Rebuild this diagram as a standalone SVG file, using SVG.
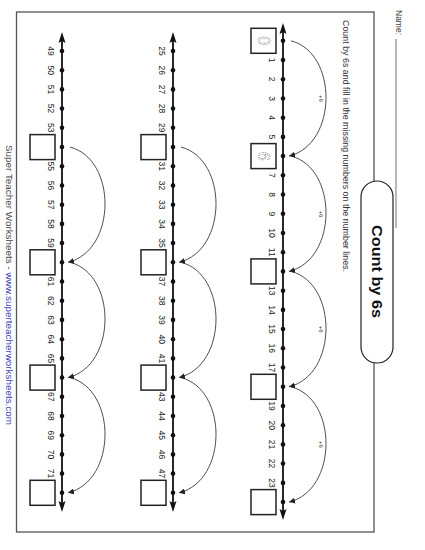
<svg xmlns="http://www.w3.org/2000/svg" width="425" height="550" viewBox="0 0 425 550">
<style>
.axis{stroke:#111;stroke-width:1.8;fill:none}
.dot{fill:#111}
.head{fill:#111}
.num{font-family:"Liberation Sans",Arial,sans-serif;font-size:8.5px;fill:#222;text-anchor:middle}
.box{fill:#fff;stroke:#222;stroke-width:1.5}
.hint{font-family:"Liberation Sans",Arial,sans-serif;font-size:16px;fill:none;stroke:#777;stroke-width:0.7;stroke-dasharray:1 1.1;text-anchor:middle}
.arc{fill:none;stroke:#222;stroke-width:0.8;marker-end:url(#ah)}
.plus{font-family:"Liberation Sans",Arial,sans-serif;font-size:6px;fill:#333;text-anchor:middle}
</style>
<defs>
<marker id="ah" markerUnits="userSpaceOnUse" markerWidth="7" markerHeight="6" refX="6" refY="3" orient="auto">
<path d="M0,0 L6,3 L0,6 Z" fill="#222"/>
</marker>
</defs>
<rect width="425" height="550" fill="#fff"/>

<g id="frame">
<rect x="16.5" y="12" width="357.5" height="520" fill="none" stroke="#555" stroke-width="1.3"/>
</g>

<g id="name">
<text transform="translate(396,10) rotate(90)" font-family="Liberation Sans,Arial,sans-serif" font-size="8.5" fill="#444">Name:</text>
<line x1="396" y1="39" x2="396" y2="228" stroke="#888" stroke-width="1.2"/>
</g>

<g id="title">
<rect x="361" y="181" width="32" height="182" rx="16" fill="#fff" stroke="#222" stroke-width="1.2"/>
<text transform="translate(372,271.5) rotate(90)" font-family="Liberation Sans,Arial,sans-serif" font-size="15" font-weight="bold" fill="#111" text-anchor="middle" textLength="93" lengthAdjust="spacingAndGlyphs">Count by 6s</text>
</g>

<g id="instructions">
<text transform="translate(343,20) rotate(90)" font-family="Liberation Sans,Arial,sans-serif" font-size="9" fill="#333" textLength="252" lengthAdjust="spacingAndGlyphs">Count by 6s and fill in the missing numbers on the number lines.</text>
</g>

<g id="footer">
<text transform="translate(5.5,145) rotate(90)" font-family="Liberation Sans,Arial,sans-serif" font-size="9" fill="#444" textLength="280" lengthAdjust="spacingAndGlyphs">Super Teacher Worksheets - <tspan fill="#4040c0">www.superteacherworksheets.com</tspan></text>
</g>

<g id="numberline-1">
<line class="axis" x1="283" y1="30" x2="283" y2="513"/>
<polygon class="head" points="283,23 279.5,34 283,32 286.5,34"/>
<polygon class="head" points="283,520 279.5,509 283,511 286.5,509"/>
<circle class="dot" cx="283" cy="40.8" r="2.3"/><circle class="dot" cx="283" cy="60.0" r="2.3"/><circle class="dot" cx="283" cy="79.2" r="2.3"/><circle class="dot" cx="283" cy="98.5" r="2.3"/><circle class="dot" cx="283" cy="117.7" r="2.3"/><circle class="dot" cx="283" cy="136.9" r="2.3"/><circle class="dot" cx="283" cy="156.1" r="2.3"/><circle class="dot" cx="283" cy="175.3" r="2.3"/><circle class="dot" cx="283" cy="194.6" r="2.3"/><circle class="dot" cx="283" cy="213.8" r="2.3"/><circle class="dot" cx="283" cy="233.0" r="2.3"/><circle class="dot" cx="283" cy="252.2" r="2.3"/><circle class="dot" cx="283" cy="271.4" r="2.3"/><circle class="dot" cx="283" cy="290.7" r="2.3"/><circle class="dot" cx="283" cy="309.9" r="2.3"/><circle class="dot" cx="283" cy="329.1" r="2.3"/><circle class="dot" cx="283" cy="348.3" r="2.3"/><circle class="dot" cx="283" cy="367.5" r="2.3"/><circle class="dot" cx="283" cy="386.8" r="2.3"/><circle class="dot" cx="283" cy="406.0" r="2.3"/><circle class="dot" cx="283" cy="425.2" r="2.3"/><circle class="dot" cx="283" cy="444.4" r="2.3"/><circle class="dot" cx="283" cy="463.6" r="2.3"/><circle class="dot" cx="283" cy="482.9" r="2.3"/><circle class="dot" cx="283" cy="502.1" r="2.3"/>
<text class="num" transform="translate(268.5,60.0) rotate(90)">1</text>
<text class="num" transform="translate(268.5,79.2) rotate(90)">2</text>
<text class="num" transform="translate(268.5,98.5) rotate(90)">3</text>
<text class="num" transform="translate(268.5,117.7) rotate(90)">4</text>
<text class="num" transform="translate(268.5,136.9) rotate(90)">5</text>
<text class="num" transform="translate(268.5,175.3) rotate(90)">7</text>
<text class="num" transform="translate(268.5,194.6) rotate(90)">8</text>
<text class="num" transform="translate(268.5,213.8) rotate(90)">9</text>
<text class="num" transform="translate(268.5,233.0) rotate(90)">10</text>
<text class="num" transform="translate(268.5,252.2) rotate(90)">11</text>
<text class="num" transform="translate(268.5,290.7) rotate(90)">13</text>
<text class="num" transform="translate(268.5,309.9) rotate(90)">14</text>
<text class="num" transform="translate(268.5,329.1) rotate(90)">15</text>
<text class="num" transform="translate(268.5,348.3) rotate(90)">16</text>
<text class="num" transform="translate(268.5,367.5) rotate(90)">17</text>
<text class="num" transform="translate(268.5,406.0) rotate(90)">19</text>
<text class="num" transform="translate(268.5,425.2) rotate(90)">20</text>
<text class="num" transform="translate(268.5,444.4) rotate(90)">21</text>
<text class="num" transform="translate(268.5,463.6) rotate(90)">22</text>
<text class="num" transform="translate(268.5,482.9) rotate(90)">23</text>
</g>
<g id="box-0"><rect class="box" x="251" y="28.3" width="25" height="25"/><text class="hint" transform="translate(257.5,40.8) rotate(90)">0</text></g>
<g id="box-6"><rect class="box" x="251" y="143.6" width="25" height="25"/><text class="hint" transform="translate(257.5,156.1) rotate(90)">6</text></g>
<g id="box-12"><rect class="box" x="251" y="258.9" width="25" height="25"/></g>
<g id="box-18"><rect class="box" x="251" y="374.3" width="25" height="25"/></g>
<g id="box-24"><rect class="box" x="251" y="489.6" width="25" height="25"/></g>

<g id="numberline-2">
<line class="axis" x1="173" y1="39" x2="173" y2="505"/>
<polygon class="head" points="173,32 169.5,43 173,41 176.5,43"/>
<polygon class="head" points="173,512 169.5,501 173,503 176.5,501"/>
<circle class="dot" cx="173" cy="51.0" r="2.3"/><circle class="dot" cx="173" cy="70.2" r="2.3"/><circle class="dot" cx="173" cy="89.4" r="2.3"/><circle class="dot" cx="173" cy="108.6" r="2.3"/><circle class="dot" cx="173" cy="127.8" r="2.3"/><circle class="dot" cx="173" cy="147.1" r="2.3"/><circle class="dot" cx="173" cy="166.3" r="2.3"/><circle class="dot" cx="173" cy="185.5" r="2.3"/><circle class="dot" cx="173" cy="204.7" r="2.3"/><circle class="dot" cx="173" cy="223.9" r="2.3"/><circle class="dot" cx="173" cy="243.1" r="2.3"/><circle class="dot" cx="173" cy="262.3" r="2.3"/><circle class="dot" cx="173" cy="281.5" r="2.3"/><circle class="dot" cx="173" cy="300.7" r="2.3"/><circle class="dot" cx="173" cy="319.9" r="2.3"/><circle class="dot" cx="173" cy="339.2" r="2.3"/><circle class="dot" cx="173" cy="358.4" r="2.3"/><circle class="dot" cx="173" cy="377.6" r="2.3"/><circle class="dot" cx="173" cy="396.8" r="2.3"/><circle class="dot" cx="173" cy="416.0" r="2.3"/><circle class="dot" cx="173" cy="435.2" r="2.3"/><circle class="dot" cx="173" cy="454.4" r="2.3"/><circle class="dot" cx="173" cy="473.6" r="2.3"/><circle class="dot" cx="173" cy="492.8" r="2.3"/>
<text class="num" transform="translate(158.5,51.0) rotate(90)">25</text>
<text class="num" transform="translate(158.5,70.2) rotate(90)">26</text>
<text class="num" transform="translate(158.5,89.4) rotate(90)">27</text>
<text class="num" transform="translate(158.5,108.6) rotate(90)">28</text>
<text class="num" transform="translate(158.5,127.8) rotate(90)">29</text>
<text class="num" transform="translate(158.5,166.3) rotate(90)">31</text>
<text class="num" transform="translate(158.5,185.5) rotate(90)">32</text>
<text class="num" transform="translate(158.5,204.7) rotate(90)">33</text>
<text class="num" transform="translate(158.5,223.9) rotate(90)">34</text>
<text class="num" transform="translate(158.5,243.1) rotate(90)">35</text>
<text class="num" transform="translate(158.5,281.5) rotate(90)">37</text>
<text class="num" transform="translate(158.5,300.7) rotate(90)">38</text>
<text class="num" transform="translate(158.5,319.9) rotate(90)">39</text>
<text class="num" transform="translate(158.5,339.2) rotate(90)">40</text>
<text class="num" transform="translate(158.5,358.4) rotate(90)">41</text>
<text class="num" transform="translate(158.5,396.8) rotate(90)">43</text>
<text class="num" transform="translate(158.5,416.0) rotate(90)">44</text>
<text class="num" transform="translate(158.5,435.2) rotate(90)">45</text>
<text class="num" transform="translate(158.5,454.4) rotate(90)">46</text>
<text class="num" transform="translate(158.5,473.6) rotate(90)">47</text>
</g>
<g id="box-30"><rect class="box" x="141" y="134.6" width="25" height="25"/></g>
<g id="box-36"><rect class="box" x="141" y="249.8" width="25" height="25"/></g>
<g id="box-42"><rect class="box" x="141" y="365.1" width="25" height="25"/></g>
<g id="box-48"><rect class="box" x="141" y="480.3" width="25" height="25"/></g>

<g id="numberline-3">
<line class="axis" x1="62" y1="39" x2="62" y2="505"/>
<polygon class="head" points="62,32 58.5,43 62,41 65.5,43"/>
<polygon class="head" points="62,512 58.5,501 62,503 65.5,501"/>
<circle class="dot" cx="62" cy="51.0" r="2.3"/><circle class="dot" cx="62" cy="70.2" r="2.3"/><circle class="dot" cx="62" cy="89.4" r="2.3"/><circle class="dot" cx="62" cy="108.6" r="2.3"/><circle class="dot" cx="62" cy="127.8" r="2.3"/><circle class="dot" cx="62" cy="147.1" r="2.3"/><circle class="dot" cx="62" cy="166.3" r="2.3"/><circle class="dot" cx="62" cy="185.5" r="2.3"/><circle class="dot" cx="62" cy="204.7" r="2.3"/><circle class="dot" cx="62" cy="223.9" r="2.3"/><circle class="dot" cx="62" cy="243.1" r="2.3"/><circle class="dot" cx="62" cy="262.3" r="2.3"/><circle class="dot" cx="62" cy="281.5" r="2.3"/><circle class="dot" cx="62" cy="300.7" r="2.3"/><circle class="dot" cx="62" cy="319.9" r="2.3"/><circle class="dot" cx="62" cy="339.2" r="2.3"/><circle class="dot" cx="62" cy="358.4" r="2.3"/><circle class="dot" cx="62" cy="377.6" r="2.3"/><circle class="dot" cx="62" cy="396.8" r="2.3"/><circle class="dot" cx="62" cy="416.0" r="2.3"/><circle class="dot" cx="62" cy="435.2" r="2.3"/><circle class="dot" cx="62" cy="454.4" r="2.3"/><circle class="dot" cx="62" cy="473.6" r="2.3"/><circle class="dot" cx="62" cy="492.8" r="2.3"/>
<text class="num" transform="translate(47.5,51.0) rotate(90)">49</text>
<text class="num" transform="translate(47.5,70.2) rotate(90)">50</text>
<text class="num" transform="translate(47.5,89.4) rotate(90)">51</text>
<text class="num" transform="translate(47.5,108.6) rotate(90)">52</text>
<text class="num" transform="translate(47.5,127.8) rotate(90)">53</text>
<text class="num" transform="translate(47.5,166.3) rotate(90)">55</text>
<text class="num" transform="translate(47.5,185.5) rotate(90)">56</text>
<text class="num" transform="translate(47.5,204.7) rotate(90)">57</text>
<text class="num" transform="translate(47.5,223.9) rotate(90)">58</text>
<text class="num" transform="translate(47.5,243.1) rotate(90)">59</text>
<text class="num" transform="translate(47.5,281.5) rotate(90)">61</text>
<text class="num" transform="translate(47.5,300.7) rotate(90)">62</text>
<text class="num" transform="translate(47.5,319.9) rotate(90)">63</text>
<text class="num" transform="translate(47.5,339.2) rotate(90)">64</text>
<text class="num" transform="translate(47.5,358.4) rotate(90)">65</text>
<text class="num" transform="translate(47.5,396.8) rotate(90)">67</text>
<text class="num" transform="translate(47.5,416.0) rotate(90)">68</text>
<text class="num" transform="translate(47.5,435.2) rotate(90)">69</text>
<text class="num" transform="translate(47.5,454.4) rotate(90)">70</text>
<text class="num" transform="translate(47.5,473.6) rotate(90)">71</text>
</g>
<g id="box-54"><rect class="box" x="30" y="134.6" width="25" height="25"/></g>
<g id="box-60"><rect class="box" x="30" y="249.8" width="25" height="25"/></g>
<g id="box-66"><rect class="box" x="30" y="365.1" width="25" height="25"/></g>
<g id="box-72"><rect class="box" x="30" y="480.3" width="25" height="25"/></g>

<g id="connectors">
<path class="arc" d="M291,40.8 C338,52.8 338,144.1 289,156.1"/>
<path class="arc" d="M291,156.1 C338,168.1 338,259.4 289,271.4"/>
<path class="arc" d="M291,271.4 C338,283.4 338,374.8 289,386.8"/>
<path class="arc" d="M291,386.8 C338,398.8 338,490.1 289,502.1"/>
<text class="plus" transform="translate(318.5,98.5) rotate(90)">+6</text>
<text class="plus" transform="translate(318.5,213.8) rotate(90)">+6</text>
<text class="plus" transform="translate(318.5,329.1) rotate(90)">+6</text>
<text class="plus" transform="translate(318.5,444.4) rotate(90)">+6</text>
<path class="arc" d="M181,147.1 C228,159.1 228,250.3 179,262.3"/>
<path class="arc" d="M181,262.3 C228,274.3 228,365.6 179,377.6"/>
<path class="arc" d="M181,377.6 C228,389.6 228,480.8 179,492.8"/>
<path class="arc" d="M70,147.1 C117,159.1 117,250.3 68,262.3"/>
<path class="arc" d="M70,262.3 C117,274.3 117,365.6 68,377.6"/>
<path class="arc" d="M70,377.6 C117,389.6 117,480.8 68,492.8"/>
</g>
</svg>
